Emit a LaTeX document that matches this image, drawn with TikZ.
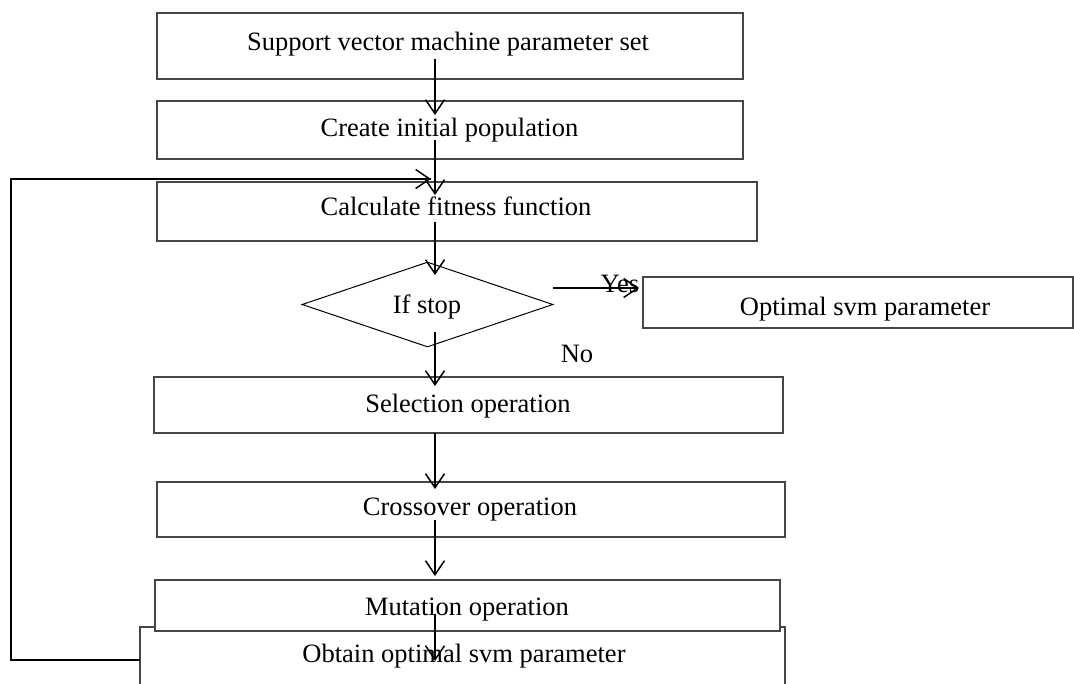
\documentclass[tikz,border=0pt]{standalone}
\usepackage{fontspec}
\setmainfont{Liberation Serif}
\usetikzlibrary{arrows.meta,shapes.geometric}
\definecolor{edgegray}{RGB}{70,70,70}
\begin{document}
\begin{tikzpicture}[x=1pt,y=-1pt,
  every node/.style={font=\fontsize{26.5}{30}\selectfont},
  box/.style={draw=edgegray, line width=1.2pt, fill=white, inner sep=0pt, rectangle},
  dia/.style={draw=black, line width=1pt, diamond, inner sep=0pt},
  lbl/.style={anchor=base, inner sep=0pt},
  arr/.style={draw=black, line width=1.5pt, -{Straight Barb[length=14pt,width=19pt,line width=1.5pt]}},
  loopline/.style={draw=black, line width=1.8pt}]
\useasboundingbox (0,0) rectangle (1074,683);
\clip (0,0) rectangle (1074,683);

% boxes
\node[box, minimum width=586, minimum height=66] (b1) at (450,46) {};
\node[box, minimum width=586, minimum height=58] (b2) at (450,130) {};
\node[box, minimum width=600, minimum height=59] (b3) at (457,211.5) {};
\node[dia, minimum width=251, minimum height=85] (d) at (427.5,304.5) {};
\node[box, minimum width=430, minimum height=51] (opt) at (858,302.5) {};
\node[box, minimum width=629, minimum height=56] (b4) at (468.5,405) {};
\node[box, minimum width=628, minimum height=55] (b5) at (471,509.5) {};
\node[box, minimum width=645, minimum height=80] (b7) at (462.5,667) {};
\node[box, minimum width=625, minimum height=51] (b6) at (467.5,605.5) {};

% texts
\node[lbl] (t1) at (448,50) {Support vector machine parameter set};
\node[lbl] (t2) at (449.5,136) {Create initial population};
\node[lbl] (t3) at (456,215) {Calculate fitness function};
\node[lbl] (td) at (427,313) {If stop};
\node[lbl] (topt) at (865,315) {Optimal svm parameter};
\node[lbl] (tyes) at (620,292) {Yes};
\node[lbl] (tno) at (577,362) {No};
\node[lbl] (t4) at (468,412) {Selection operation};
\node[lbl] (t5) at (470,515) {Crossover operation};
\node[lbl] (t6) at (467,615) {Mutation operation};
\node[lbl] (t7) at (464,662) {Obtain optimal svm parameter};

% connector end points
\coordinate (a1s) at (435,59);  \coordinate (a1e) at (435,115);
\coordinate (a2s) at (435,140); \coordinate (a2e) at (435,195);
\coordinate (a3s) at (435,222); \coordinate (a3e) at (435,275);
\coordinate (a4s) at (435,332); \coordinate (a4e) at (435,386);
\coordinate (a5s) at (435,433); \coordinate (a5e) at (435,489);
\coordinate (a6s) at (435,520); \coordinate (a6e) at (435,576);
\coordinate (a7s) at (435,614); \coordinate (a7e) at (435,661);
\coordinate (ys) at (553,288);  \coordinate (ye) at (639,288);
\coordinate (ls) at (140,660);  \coordinate (lc1) at (11,660);
\coordinate (lc2) at (11,179);  \coordinate (le) at (431,179);

\draw[arr] (a1s) -- (a1e);
\draw[arr] (a2s) -- (a2e);
\draw[arr] (a3s) -- (a3e);
\draw[arr] (a4s) -- (a4e);
\draw[arr] (a5s) -- (a5e);
\draw[arr] (a6s) -- (a6e);
\draw[arr] (a7s) -- (a7e);
\draw[arr] (ys) -- (ye);
\draw[loopline] (ls) -- (lc1) -- (lc2) -- (le);
\draw[arr] (lc2) -- (le);
\end{tikzpicture}
\end{document}
